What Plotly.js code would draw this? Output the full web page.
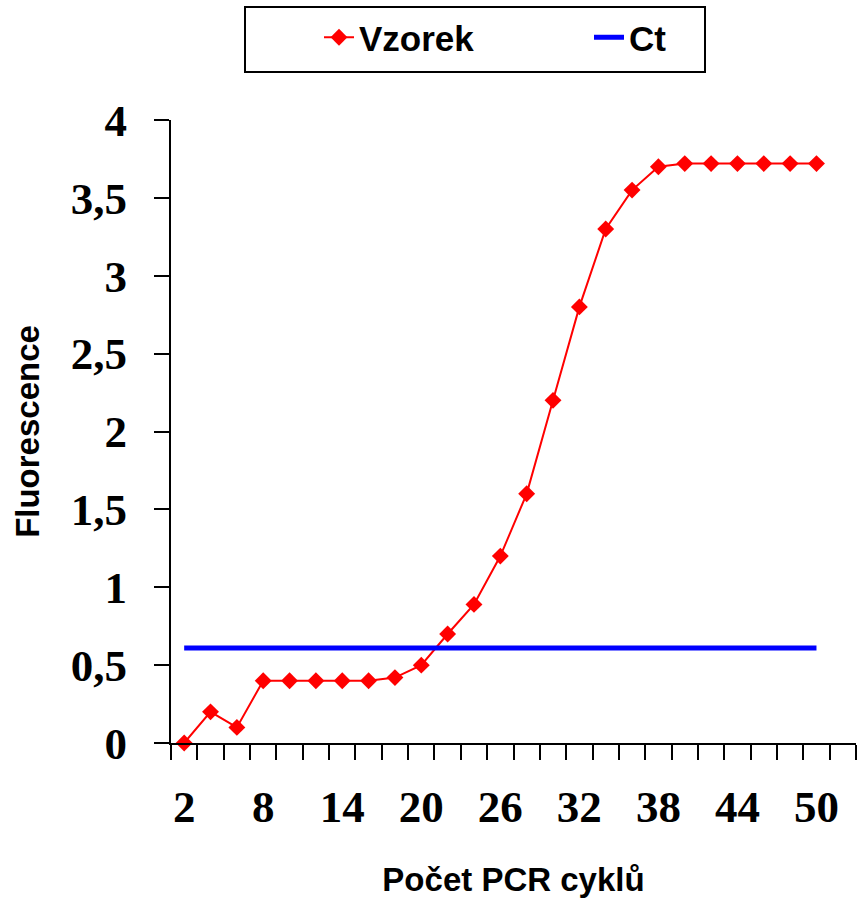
<!DOCTYPE html>
<html>
<head>
<meta charset="utf-8">
<script src="https://cdn.plot.ly/plotly-3.0.1.min.js"></script>
<style>html,body{margin:0;padding:0;background:#fff}#chart{width:866px;height:898px}</style>
</head>
<body>
<div id="chart"></div>
<script>
// Data
const cycles = [2,4,6,8,10,12,14,16,18,20,22,24,26,28,30,32,34,36,38,40,42,44,46,48,50];
const vzorek = [0,0.2,0.1,0.4,0.4,0.4,0.4,0.4,0.42,0.5,0.7,0.89,1.2,1.6,2.2,2.8,3.3,3.55,3.7,3.72,3.72,3.72,3.72,3.72,3.72];
const ctLevel = 0.61;
const ctValues = cycles.map(() => ctLevel);
const xTickLabels = ['2','8','14','20','26','32','38','44','50'];
const seriesNames = ['Vzorek','Ct'];
const xTitle = 'Počet PCR cyklů';
const yTitle = 'Fluorescence';

const xTickVals = xTickLabels.map(Number);
// category boundaries (one extra empty category after the last cycle, as in the source)
const step = cycles[1]-cycles[0];
const boundaries = [];
for (let i = 0; i <= cycles.length + 1; i++) boundaries.push(cycles[0] - step/2 + i*step);

const W = 866, H = 898;
const serifBold = {family: 'Liberation Serif, Times New Roman, serif', size: 45, color: '#000', weight: 'bold'};
const sansBold = {family: 'Liberation Sans, Arial, sans-serif', size: 33, color: '#000', weight: 'bold'};

const traces = [
  {x: cycles, y: vzorek, name: seriesNames[0], type: 'scatter', mode: 'lines+markers',
   line: {color: '#FF0000', width: 2}, marker: {symbol: 'diamond', size: 13, color: '#FF0000'}, cliponaxis: false},
  {x: cycles, y: ctValues, name: seriesNames[1], type: 'scatter', mode: 'lines',
   line: {color: '#0000FF', width: 5}, cliponaxis: false}
];

const margin = {l: 171, r: 10, t: 120, b: 155};
const pw = W - margin.l - margin.r, ph = H - margin.t - margin.b;
// legend frame (pixel box converted to paper coords)
const px = v => (v - margin.l) / pw;
const py = v => (H - margin.b - v) / ph;

const layout = {
  width: W, height: H,
  paper_bgcolor: '#fff', plot_bgcolor: '#fff',
  separators: ', ',
  margin: margin,
  showlegend: true,
  legend: {orientation: 'h', x: 319 / W, xanchor: 'left', xref: 'container', y: 1 - 8 / H, yanchor: 'top', yref: 'container',
    font: {family: 'Liberation Sans, Arial, sans-serif', size: 35, color: '#000', weight: 'bold'},
    borderwidth: 0, bgcolor: 'rgba(0,0,0,0)', entrywidth: 225, entrywidthmode: 'pixels'},
  shapes: [
    {type: 'rect', xref: 'paper', yref: 'paper', x0: px(245), x1: px(705), y0: py(72), y1: py(7),
     line: {color: '#000', width: 2}, fillcolor: 'rgba(0,0,0,0)', layer: 'below'}
  ],
  xaxis: {
    range: [boundaries[0], boundaries[boundaries.length-1]],
    tickmode: 'array', tickvals: xTickVals, ticktext: xTickLabels,
    ticks: '', ticklen: 0, ticklabelstandoff: 23,
    tickfont: serifBold,
    showline: true, linecolor: '#000', linewidth: 2,
    showgrid: false, zeroline: false,
    minor: {tickmode: 'array', tickvals: boundaries, ticks: 'outside', ticklen: 15, tickwidth: 2, tickcolor: '#000', showgrid: false},
    title: {text: xTitle, font: sansBold, standoff: 38}
  },
  yaxis: {
    range: [0, 4], dtick: 0.5, tick0: 0,
    ticks: 'outside', ticklen: 15, tickwidth: 2, tickcolor: '#000',
    ticklabelstandoff: 18,
    tickfont: serifBold,
    showline: true, linecolor: '#000', linewidth: 2,
    showgrid: false, zeroline: false,
    title: {text: yTitle, font: sansBold, standoff: 21}
  }
};

Plotly.newPlot('chart', traces, layout, {displayModeBar: false, staticPlot: true});
</script>
</body>
</html>
